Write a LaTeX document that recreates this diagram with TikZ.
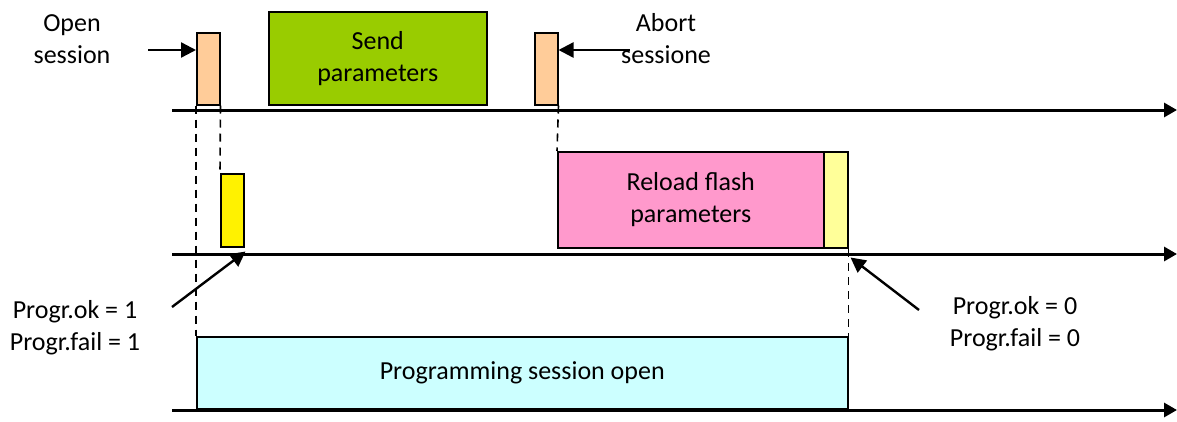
\documentclass[tikz,border=0pt]{standalone}
\usepackage{fontspec}
\setmainfont{Carlito}
\usepackage{xcolor}
\usetikzlibrary{arrows.meta,positioning,calc}

\definecolor{peach}{HTML}{FFCC99}
\definecolor{sendgreen}{HTML}{99CC00}
\definecolor{reloadpink}{HTML}{FF99CC}
\definecolor{paleyellow}{HTML}{FFFF99}
\definecolor{sessioncyan}{HTML}{CCFFFF}

\tikzset{
    slot/.style={draw, line width=1.5pt, inner sep=0pt, anchor=north west, align=center},
    txt/.style={align=center, font=\fontsize{26}{32}\selectfont},
    timeline/.style={line width=3pt, -{Triangle[length=13pt, width=14pt]}},
    pointer/.style={line width=2.4pt, -{Triangle[length=15pt, width=15pt]}},
    guide/.style={line width=1.6pt, dash pattern=on 8pt off 6pt}
}

\begin{document}
\begin{tikzpicture}[x=1pt, y=-1pt]
    \useasboundingbox (0,0) rectangle (1177,421);

    % Time axes
    \foreach \name/\ypos in {top/110, mid/254, bot/410} {
        \coordinate (\name start) at (172,\ypos);
        \coordinate (\name end) at (1177,\ypos);
        \draw[timeline] (\name start) -- (\name end);
    }

    % First line: host commands
    \node[slot, fill=peach, minimum width=23pt, minimum height=72pt] (open) at (196,32) {};
    \node[slot, fill=sendgreen, minimum width=218pt, minimum height=93pt, txt] (send) at (268,11) {Send\\parameters};
    \node[slot, fill=peach, minimum width=23pt, minimum height=72pt] (abort) at (534,32) {};

    % Second line: device answers
    \node[slot, fill=yellow, minimum width=23pt, minimum height=73pt] (okfail) at (220,173) {};
    \node[slot, fill=reloadpink, minimum width=266pt, minimum height=96pt, txt] (reload) at (557,151) {Reload flash\\parameters};
    \node[slot, fill=paleyellow, minimum width=24pt, minimum height=96pt] (reset) at (823,151) {};

    % Third line: session state
    \node[slot, fill=sessioncyan, minimum width=651pt, minimum height=72pt, txt] (session) at (196,336) {Programming session open};

    % Dashed guides
    \draw[guide] (open.south west) -- (session.north west);
    \draw[guide] (open.south east) -- (okfail.north west);
    \draw[guide] (abort.south east) -- (reload.north west);
    \draw[guide] (reset.north east) -- (session.north east);

    % Labels
    \node[txt] (opentxt) at (72,39) {Open\\session};
    \node[txt] (aborttxt) at (666,39) {Abort\\sessione};
    \node[txt] (flagsone) at (75,328) {Progr.ok = 1\\Progr.fail = 1};
    \node[txt] (flagszero) at (1015,324) {Progr.ok = 0\\Progr.fail = 0};

    % Pointers
    \coordinate (opentail) at (148,50);
    \coordinate (aborttail) at (630,50);
    \coordinate (onetail) at (172,307);
    \coordinate (zerotail) at (919,310);
    \draw[pointer] (opentail) -- (opentail -| open.west);
    \draw[pointer] (aborttail) -- (aborttail -| abort.east);
    \draw[pointer] (onetail) -- ($(okfail.south east)+(1,4)$);
    \draw[pointer] (zerotail) -- ($(reset.south east)+(2,9)$);
\end{tikzpicture}
\end{document}
